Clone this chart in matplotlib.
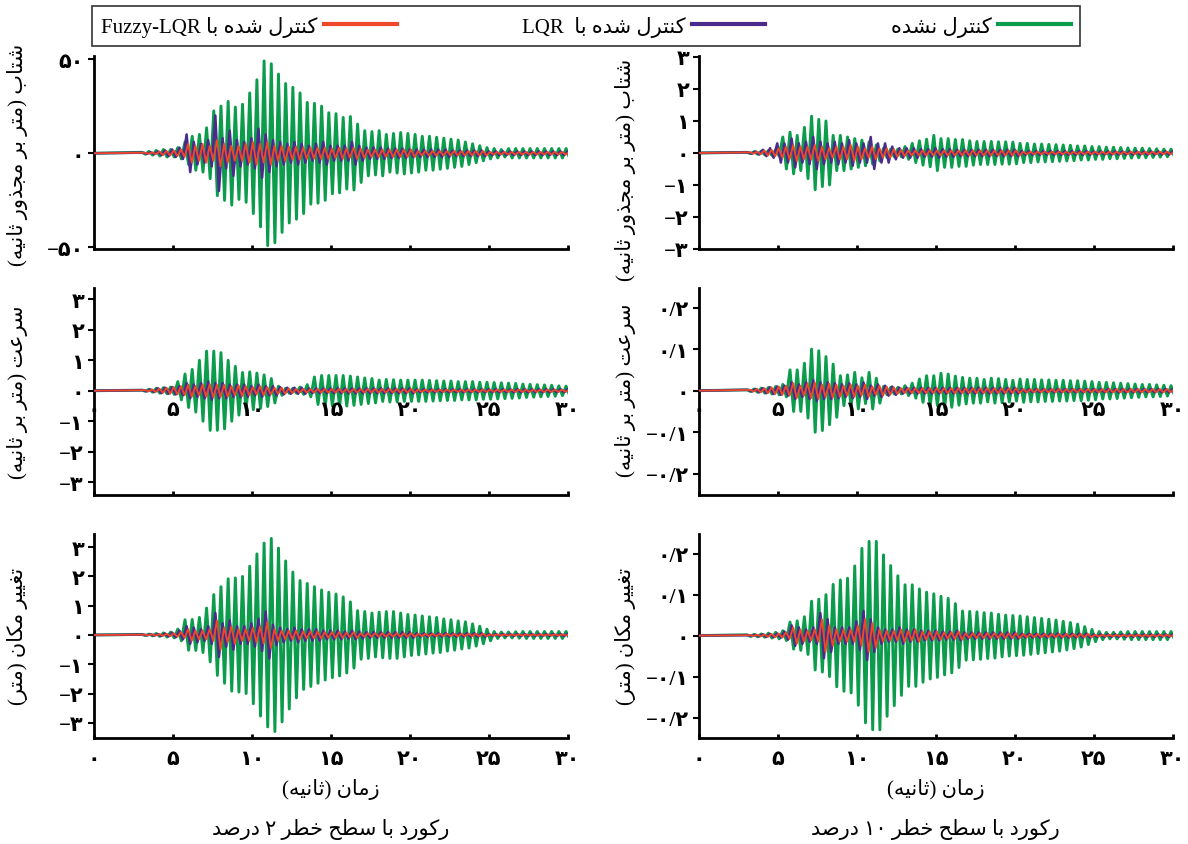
import numpy as np
import matplotlib
matplotlib.use('Agg')
import matplotlib.pyplot as plt
from matplotlib.lines import Line2D

plt.rcParams['font.family'] = ['Liberation Serif', 'DejaVu Sans']

# ---- data: amplitude of each oscillation cycle ----
T0 = 3.05        # time of first cycle peak (s)
PERIOD = 0.455   # oscillation period (s)

# acceleration, 2% record (m/s^2)
acc2_unc = [0.5, 1, 1.5, 2, 2, 3, 6,
            9, 10, 13.5, 22.5, 25, 27.5, 24.5, 26, 32, 39,
            49, 47.5, 42, 37, 35, 32, 27, 26.5, 25, 21.5,
            21, 19, 19.5, 15.5, 12, 11.5, 12, 10, 10.5, 11, 10.5,
            10, 9, 9, 8.5, 8, 7.5, 7, 6, 5, 4,
            3, 2.5, 2, 2.5, 2.5, 2.5, 2.5, 2.5, 2.5, 2.5, 2.5, 2.5]
acc2_lqr = [0.3, 0.5, 1, 1.5, 2, 3, 10,
            6, 5, 7, 20, 8, 12, 7, 6, 8, 13,
            10, 7, 6, 5, 6, 5, 4, 5, 6, 4,
            4, 4, 6, 4, 3, 3, 3, 2.5, 2.5, 2.5, 2,
            2, 2, 2, 2, 2, 1.5, 1.5, 1.5, 1.5, 1.5,
            1, 1, 1, 1, 1, 1, 1, 1, 1, 1, 1, 1]
acc2_fuz = [0.3, 0.5, 1, 1.2, 1.5, 2, 5,
            4, 5, 4, 7, 5, 4, 4, 5, 6, 5,
            6, 4, 4, 3.5, 3.5, 3, 3, 3, 3, 2.5,
            3, 2.5, 3, 2.5, 2, 2, 2, 2, 2, 2, 2,
            1.2, 1.2, 1.2, 1.2, 1.2, 1.2, 1.2, 1.2, 1.2, 1.2,
            0.7, 0.7, 0.7, 0.7, 0.7, 0.7, 0.7, 0.7, 0.7, 0.7, 0.7, 0.7]

# acceleration, 10% record
acc10_unc = [0.02, 0.04, 0.06, 0.08, 0.1, 0.5, 0.65,
             0.55, 0.8, 1.15, 1.05, 1.0, 0.55, 0.55, 0.5, 0.45, 0.4,
             0.35, 0.25, 0.15, 0.12, 0.12, 0.2, 0.3, 0.38, 0.43, 0.55,
             0.45, 0.45, 0.42, 0.42, 0.38, 0.36, 0.36, 0.36, 0.35, 0.35, 0.34,
             0.3, 0.3, 0.28, 0.28, 0.27, 0.26, 0.25, 0.24, 0.22, 0.22,
             0.2, 0.2, 0.18, 0.18, 0.17, 0.16, 0.15, 0.15, 0.14, 0.13, 0.12, 0.12]
acc10_lqr = [0.02, 0.05, 0.1, 0.15, 0.3, 0.3, 0.45,
             0.3, 0.35, 0.5, 0.35, 0.3, 0.35, 0.3, 0.4, 0.3, 0.3,
             0.5, 0.3, 0.3, 0.2, 0.15, 0.15, 0.15, 0.12, 0.12, 0.15,
             0.12, 0.12, 0.1, 0.1, 0.1, 0.1, 0.1, 0.1, 0.1, 0.1, 0.1,
             0.06, 0.06, 0.06, 0.06, 0.06, 0.06, 0.06, 0.06, 0.06, 0.06,
             0.05, 0.05, 0.05, 0.05, 0.05, 0.05, 0.05, 0.05, 0.05, 0.05, 0.05, 0.05]
acc10_fuz = [0.02, 0.04, 0.08, 0.1, 0.15, 0.2, 0.25,
             0.2, 0.2, 0.25, 0.2, 0.15, 0.2, 0.2, 0.25, 0.2, 0.15,
             0.2, 0.15, 0.15, 0.12, 0.1, 0.08, 0.08, 0.08, 0.08, 0.08,
             0.08, 0.08, 0.08, 0.08, 0.08, 0.08, 0.08, 0.08, 0.08, 0.08, 0.08,
             0.04, 0.04, 0.04, 0.04, 0.04, 0.04, 0.04, 0.04, 0.04, 0.04,
             0.04, 0.04, 0.04, 0.04, 0.04, 0.04, 0.04, 0.04, 0.04, 0.04, 0.04, 0.04]

# velocity, 2% record (m/s)
vel2_unc = [0.02, 0.05, 0.08, 0.1, 0.12, 0.3, 0.55,
            0.7, 1.0, 1.3, 1.3, 1.25, 1.0, 0.8, 0.6, 0.62, 0.58,
            0.52, 0.4, 0.15, 0.08, 0.08, 0.12, 0.2, 0.45, 0.5, 0.5,
            0.5, 0.5, 0.48, 0.45, 0.42, 0.4, 0.35, 0.37, 0.36, 0.35, 0.35,
            0.35, 0.35, 0.34, 0.33, 0.32, 0.32, 0.3, 0.3, 0.3, 0.28,
            0.28, 0.27, 0.26, 0.25, 0.24, 0.22, 0.21, 0.2, 0.19, 0.18, 0.16, 0.15]
vel2_lqr = [0.02, 0.04, 0.08, 0.1, 0.12, 0.15, 0.25,
            0.2, 0.25, 0.3, 0.25, 0.25, 0.2, 0.2, 0.2, 0.15, 0.2,
            0.15, 0.15, 0.12, 0.1, 0.1, 0.1, 0.08, 0.08, 0.08, 0.08,
            0.08, 0.08, 0.08, 0.08, 0.08, 0.08, 0.08, 0.08, 0.08, 0.08, 0.08,
            0.05, 0.05, 0.05, 0.05, 0.05, 0.05, 0.05, 0.05, 0.05, 0.05,
            0.05, 0.05, 0.05, 0.05, 0.05, 0.05, 0.05, 0.05, 0.05, 0.05, 0.05, 0.05]
vel2_fuz = [0.02, 0.04, 0.07, 0.1, 0.12, 0.15, 0.2,
            0.15, 0.2, 0.22, 0.2, 0.2, 0.15, 0.18, 0.15, 0.12, 0.15,
            0.12, 0.1, 0.1, 0.08, 0.06, 0.06, 0.06, 0.06, 0.06, 0.06,
            0.06, 0.06, 0.06, 0.06, 0.06, 0.06, 0.06, 0.06, 0.06, 0.06, 0.06,
            0.04, 0.04, 0.04, 0.04, 0.04, 0.04, 0.04, 0.04, 0.04, 0.04,
            0.04, 0.04, 0.04, 0.04, 0.04, 0.04, 0.04, 0.04, 0.04, 0.04, 0.04, 0.04]

# velocity, 10% record
vel10_unc = [0.002, 0.004, 0.006, 0.008, 0.01, 0.015, 0.05,
             0.05, 0.066, 0.1, 0.096, 0.082, 0.064, 0.036, 0.038, 0.044, 0.031,
             0.044, 0.03, 0.01, 0.008, 0.008, 0.012, 0.018, 0.028, 0.036, 0.036,
             0.042, 0.04, 0.035, 0.032, 0.03, 0.03, 0.027, 0.03, 0.029, 0.027, 0.025,
             0.028, 0.027, 0.027, 0.026, 0.026, 0.025, 0.025, 0.024, 0.024, 0.023,
             0.022, 0.02, 0.02, 0.019, 0.018, 0.017, 0.016, 0.015, 0.015, 0.014, 0.013, 0.012]
vel10_lqr = [0.002, 0.004, 0.006, 0.008, 0.01, 0.012, 0.02,
             0.015, 0.02, 0.025, 0.02, 0.02, 0.018, 0.015, 0.018, 0.015, 0.02,
             0.012, 0.015, 0.012, 0.01, 0.007, 0.007, 0.007, 0.007, 0.007, 0.007,
             0.007, 0.007, 0.007, 0.007, 0.007, 0.007, 0.007, 0.007, 0.007, 0.007, 0.007,
             0.004, 0.004, 0.004, 0.004, 0.004, 0.004, 0.004, 0.004, 0.004, 0.004,
             0.004, 0.004, 0.004, 0.004, 0.004, 0.004, 0.004, 0.004, 0.004, 0.004, 0.004, 0.004]
vel10_fuz = [0.002, 0.004, 0.006, 0.008, 0.01, 0.012, 0.018,
             0.012, 0.018, 0.02, 0.015, 0.017, 0.015, 0.012, 0.015, 0.012, 0.015,
             0.01, 0.012, 0.01, 0.008, 0.006, 0.006, 0.006, 0.006, 0.006, 0.006,
             0.006, 0.006, 0.006, 0.006, 0.006, 0.006, 0.006, 0.006, 0.006, 0.006, 0.006,
             0.004, 0.004, 0.004, 0.004, 0.004, 0.004, 0.004, 0.004, 0.004, 0.004,
             0.004, 0.004, 0.004, 0.004, 0.004, 0.004, 0.004, 0.004, 0.004, 0.004, 0.004, 0.004]

# displacement, 2% record (m)
disp2_unc = [0.02, 0.03, 0.05, 0.07, 0.1, 0.2, 0.52,
             0.53, 0.6, 0.92, 1.38, 1.65, 1.92, 1.95, 2.0, 2.35, 2.77,
             3.14, 3.3, 2.97, 2.53, 2.15, 1.86, 1.76, 1.65, 1.54, 1.46,
             1.4, 1.3, 1.13, 0.83, 0.8, 0.75, 0.78, 0.8, 0.8, 0.75, 0.7,
             0.68, 0.65, 0.62, 0.6, 0.55, 0.52, 0.48, 0.45, 0.38, 0.3,
             0.2, 0.12, 0.1, 0.1, 0.11, 0.12, 0.12, 0.12, 0.12, 0.12, 0.12, 0.12]
disp2_lqr = [0.01, 0.02, 0.03, 0.05, 0.08, 0.15, 0.3,
             0.25, 0.2, 0.3, 0.75, 0.4, 0.5, 0.3, 0.3, 0.4, 0.55,
             0.8, 0.35, 0.25, 0.2, 0.25, 0.2, 0.2, 0.2, 0.15, 0.15,
             0.15, 0.12, 0.15, 0.12, 0.1, 0.1, 0.1, 0.1, 0.1, 0.1, 0.1,
             0.06, 0.06, 0.06, 0.06, 0.06, 0.06, 0.06, 0.06, 0.06, 0.06,
             0.03, 0.03, 0.03, 0.03, 0.03, 0.03, 0.03, 0.03, 0.03, 0.03, 0.03, 0.03]
disp2_fuz = [0.01, 0.02, 0.03, 0.04, 0.06, 0.1, 0.2,
             0.15, 0.15, 0.2, 0.5, 0.25, 0.3, 0.2, 0.2, 0.25, 0.3,
             0.45, 0.2, 0.15, 0.15, 0.15, 0.12, 0.12, 0.12, 0.1, 0.1,
             0.1, 0.08, 0.1, 0.06, 0.06, 0.06, 0.06, 0.06, 0.06, 0.06, 0.06,
             0.04, 0.04, 0.04, 0.04, 0.04, 0.04, 0.04, 0.04, 0.04, 0.04,
             0.02, 0.02, 0.02, 0.02, 0.02, 0.02, 0.02, 0.02, 0.02, 0.02, 0.02, 0.02]

# displacement, 10% record
disp10_unc = [0.002, 0.003, 0.004, 0.006, 0.008, 0.012, 0.033,
              0.036, 0.046, 0.084, 0.089, 0.1, 0.125, 0.136, 0.14, 0.17, 0.213,
              0.23, 0.23, 0.197, 0.171, 0.146, 0.124, 0.124, 0.114, 0.106, 0.102,
              0.096, 0.091, 0.078, 0.06, 0.059, 0.058, 0.056, 0.055, 0.052, 0.05, 0.049,
              0.048, 0.046, 0.044, 0.042, 0.04, 0.038, 0.035, 0.032, 0.028, 0.022,
              0.015, 0.01, 0.008, 0.008, 0.009, 0.01, 0.01, 0.01, 0.01, 0.01, 0.01, 0.01]
disp10_lqr = [0.001, 0.002, 0.003, 0.004, 0.005, 0.01, 0.025,
              0.02, 0.015, 0.02, 0.055, 0.04, 0.02, 0.02, 0.02, 0.035, 0.06,
              0.04, 0.02, 0.015, 0.015, 0.02, 0.015, 0.015, 0.012, 0.012, 0.012,
              0.01, 0.01, 0.012, 0.008, 0.008, 0.008, 0.008, 0.008, 0.008, 0.008, 0.008,
              0.005, 0.005, 0.005, 0.005, 0.005, 0.005, 0.005, 0.005, 0.005, 0.005,
              0.003, 0.003, 0.003, 0.003, 0.003, 0.003, 0.003, 0.003, 0.003, 0.003, 0.003, 0.003]
disp10_fuz = [0.001, 0.002, 0.003, 0.004, 0.005, 0.008, 0.02,
              0.015, 0.012, 0.015, 0.04, 0.025, 0.015, 0.015, 0.015, 0.025, 0.04,
              0.03, 0.015, 0.012, 0.012, 0.015, 0.012, 0.015, 0.01, 0.01, 0.01,
              0.008, 0.008, 0.01, 0.006, 0.006, 0.006, 0.006, 0.006, 0.006, 0.006, 0.006,
              0.004, 0.004, 0.004, 0.004, 0.004, 0.004, 0.004, 0.004, 0.004, 0.004,
              0.002, 0.002, 0.002, 0.002, 0.002, 0.002, 0.002, 0.002, 0.002, 0.002, 0.002, 0.002]

x_ticks = [0, 5, 10, 15, 20, 25, 30]
x_tick_labels = ['۰', '۵', '۱۰', '۱۵', '۲۰', '۲۵', '۳۰']
ticks_50 = [-50, 0, 50]
labels_50 = ['−۵۰', '۰', '۵۰']
ticks_3 = [-3, -2, -1, 0, 1, 2, 3]
labels_3 = ['−۳', '−۲', '−۱', '۰', '۱', '۲', '۳']
ticks_02 = [-0.2, -0.1, 0, 0.1, 0.2]
labels_02 = ['−۰/۲', '−۰/۱', '۰', '۰/۱', '۰/۲']

C_UNC = '#0b9c4c'
C_LQR = '#4a2a8a'
C_FUZ = '#f0462a'

# ---- minimal Persian shaping + right-to-left ordering ----
FORMS = {
    'ا': ('\uFE8D', '\uFE8E', None, None),
    'ب': ('\uFE8F', '\uFE90', '\uFE91', '\uFE92'),
    'ت': ('\uFE95', '\uFE96', '\uFE97', '\uFE98'),
    'ث': ('\uFE99', '\uFE9A', '\uFE9B', '\uFE9C'),
    'ج': ('\uFE9D', '\uFE9E', '\uFE9F', '\uFEA0'),
    'ح': ('\uFEA1', '\uFEA2', '\uFEA3', '\uFEA4'),
    'خ': ('\uFEA5', '\uFEA6', '\uFEA7', '\uFEA8'),
    'د': ('\uFEA9', '\uFEAA', None, None),
    'ذ': ('\uFEAB', '\uFEAC', None, None),
    'ر': ('\uFEAD', '\uFEAE', None, None),
    'ز': ('\uFEAF', '\uFEB0', None, None),
    'س': ('\uFEB1', '\uFEB2', '\uFEB3', '\uFEB4'),
    'ش': ('\uFEB5', '\uFEB6', '\uFEB7', '\uFEB8'),
    'ص': ('\uFEB9', '\uFEBA', '\uFEBB', '\uFEBC'),
    'ط': ('\uFEC1', '\uFEC2', '\uFEC3', '\uFEC4'),
    'ع': ('\uFEC9', '\uFECA', '\uFECB', '\uFECC'),
    'غ': ('\uFECD', '\uFECE', '\uFECF', '\uFED0'),
    'ل': ('\uFEDD', '\uFEDE', '\uFEDF', '\uFEE0'),
    'م': ('\uFEE1', '\uFEE2', '\uFEE3', '\uFEE4'),
    'ن': ('\uFEE5', '\uFEE6', '\uFEE7', '\uFEE8'),
    'ه': ('\uFEE9', '\uFEEA', '\uFEEB', '\uFEEC'),
    'و': ('\uFEED', '\uFEEE', None, None),
    '\u06A9': ('\uFB8E', '\uFB8F', '\uFB90', '\uFB91'),
    '\u06CC': ('\uFBFC', '\uFBFD', '\uFBFE', '\uFBFF'),
}
MIRROR = {'(': ')', ')': '('}


def shape(text):
    text = text.replace('\u0643', '\u06A9').replace('\u064A', '\u06CC')
    out = []
    for i, c in enumerate(text):
        if c not in FORMS:
            out.append(c)
            continue
        prev = text[i - 1] if i > 0 else ''
        nxt = text[i + 1] if i + 1 < len(text) else ''
        join_prev = prev in FORMS and FORMS[prev][2] is not None
        join_next = FORMS[c][2] is not None and nxt in FORMS
        iso, fin, ini, med = FORMS[c]
        if join_prev and join_next:
            out.append(med)
        elif join_prev:
            out.append(fin)
        elif join_next:
            out.append(ini)
        else:
            out.append(iso)
    return ''.join(out)


def is_ltr(c):
    return (c.isascii() and (c.isalnum() or c == '-')) or '\u06F0' <= c <= '\u06F9'


def fa(text):
    runs = []
    for c in shape(text):
        ltr = is_ltr(c)
        if runs and runs[-1][0] == ltr:
            runs[-1][1].append(c)
        else:
            runs.append([ltr, [c]])
    out = []
    for ltr, chars in reversed(runs):
        if ltr:
            out.append(''.join(chars))
        else:
            out.append(''.join(MIRROR.get(c, c) for c in reversed(chars)))
    return ''.join(out)


def wave(amps, shift=0.0):
    amps = np.asarray(amps, float)
    tp = T0 + shift + PERIOD * np.arange(len(amps))
    t = np.column_stack([tp, tp + PERIOD / 2]).ravel()
    y = np.column_stack([amps, -amps]).ravel()
    return np.r_[0.0, t], np.r_[0.0, y]


fig = plt.figure(figsize=(11.88, 8.45), dpi=100)

W, H = 1188.0, 845.0
col_x = [93.7, 698.7]
col_w = 474.0
rows_px = [(57, 250), (289, 496), (535, 739)]

panels = [
    # row, col, series, ylim, ticks, labels
    (0, 0, (acc2_unc, acc2_lqr, acc2_fuz), (-50.8, 51.6), ticks_50, labels_50),
    (0, 1, (acc10_unc, acc10_lqr, acc10_fuz), (-2.98, 3.03), ticks_3, labels_3),
    (1, 0, (vel2_unc, vel2_lqr, vel2_fuz), (-3.42, 3.37), ticks_3, labels_3),
    (1, 1, (vel10_unc, vel10_lqr, vel10_fuz), (-0.251, 0.247), ticks_02, labels_02),
    (2, 0, (disp2_unc, disp2_lqr, disp2_fuz), (-3.52, 3.45), ticks_3, labels_3),
    (2, 1, (disp10_unc, disp10_lqr, disp10_fuz), (-0.25, 0.248), ticks_02, labels_02),
]

for row, col, (unc, lqr, fuz), ylim, yt, ytl in panels:
    top, bot = rows_px[row]
    ax = fig.add_axes([col_x[col] / W, 1 - bot / H, col_w / W, (bot - top) / H])
    t, y = wave(unc)
    ax.plot(t, y, color=C_UNC, lw=2.1, zorder=2)
    t, y = wave(lqr, shift=0.1)
    ax.plot(t, y, color=C_LQR, lw=1.8, zorder=3)
    t, y = wave(fuz, shift=0.2)
    ax.plot(t, y, color=C_FUZ, lw=1.3, zorder=4)

    ax.set_xlim(0, 30)
    ax.set_ylim(*ylim)
    for s in ('top', 'right'):
        ax.spines[s].set_visible(False)
    for s in ('left', 'bottom'):
        ax.spines[s].set_linewidth(2.0)
    ax.set_yticks(yt)
    ax.set_yticklabels(ytl, fontweight='bold')
    ax.set_xticks(x_ticks)
    ax.tick_params(axis='y', direction='out', length=4, width=1.5, labelsize=15, pad=3)
    ax.tick_params(axis='x', direction='in', length=3, width=2, labelsize=15, pad=8)
    if row == 2:
        ax.set_xticklabels(x_tick_labels, fontweight='bold')
    else:
        ax.set_xticklabels([])
    if row == 1:
        for xv, lab in zip(x_ticks, x_tick_labels):
            ax.annotate(lab, (xv, 0), xytext=(0, -14), textcoords='offset points',
                        ha='center', va='center', fontsize=15, fontweight='bold',
                        annotation_clip=False)

# y-axis titles
ylabels = ['شتاب (متر بر مجذور ثانیه)', 'سرعت (متر بر ثانیه)', 'تغییر مکان (متر)']
ycent_left = [155, 392, 636]
ycent_right = [170, 390, 636]
for lab, yl, yr in zip(ylabels, ycent_left, ycent_right):
    fig.text(18 / W, 1 - yl / H, fa(lab), rotation=90, ha='center', va='center', fontsize=15)
    fig.text(625 / W, 1 - yr / H, fa(lab), rotation=90, ha='center', va='center', fontsize=15)

# x titles and record captions
captions = ['رکورد با سطح خطر ۲ درصد', 'رکورد با سطح خطر ۱۰ درصد']
for col, cap in enumerate(captions):
    xc = (col_x[col] + col_w / 2) / W
    fig.text(xc, 1 - 790 / H, fa('زمان (ثانیه)'), ha='center', va='center', fontsize=15)
    fig.text(xc, 1 - 830 / H, fa(cap), ha='center', va='center', fontsize=15)

# legend (right-to-left)
handles = [Line2D([], [], color=C_FUZ, lw=3), Line2D([], [], color=C_LQR, lw=3),
           Line2D([], [], color=C_UNC, lw=3)]
labels = [fa('کنترل شده با Fuzzy-LQR'), fa('کنترل شده با  LQR'), fa('کنترل نشده')]
leg = fig.legend(handles, labels, loc='center',
                 bbox_to_anchor=(92 / W, 1 - 46 / H, 988 / W, 38 / H),
                 mode='expand', ncol=3, markerfirst=False, frameon=True, fancybox=False,
                 edgecolor='black', fontsize=15, handlelength=3.5, borderaxespad=0,
                 borderpad=0.45, handletextpad=0.3)
leg.get_frame().set_linewidth(1.2)

fig.savefig('out.png', dpi=100)
